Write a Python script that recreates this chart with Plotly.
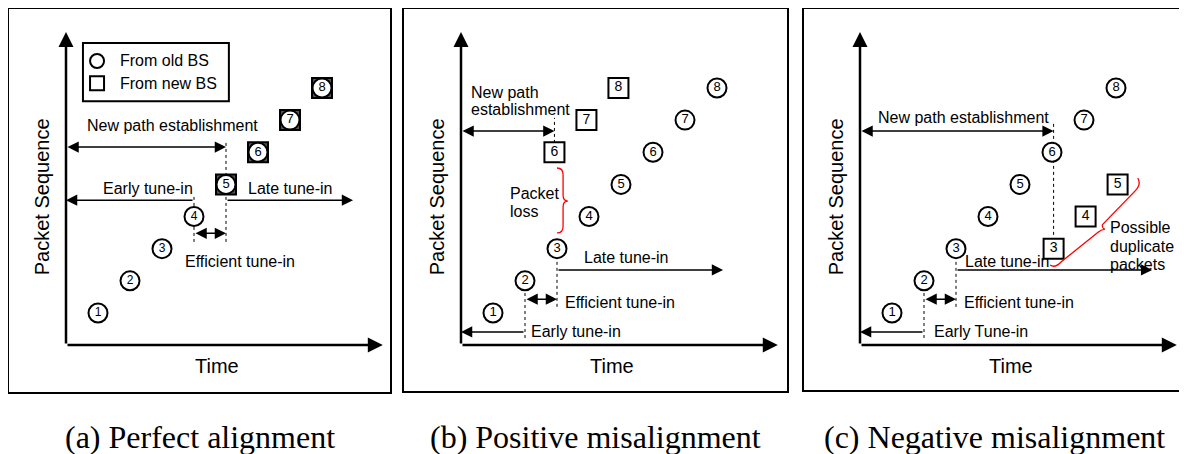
import plotly.graph_objects as go

# packet sequence numbers and arrival times (time unit = one packet slot)
old_seq = [1, 2, 3, 4, 5, 6, 7, 8]
a_old_t = [1, 2, 3, 4]
a_old_seq = [1, 2, 3, 4]
a_new_t = [5, 6, 7, 8]
a_new_seq = [5, 6, 7, 8]
b_old_t = [1, 2, 3, 4, 5, 6, 7, 8]
b_new_t = [2.92, 3.92, 4.92]
b_new_seq = [6, 7, 8]
c_old_t = [1, 2, 3, 4, 5, 6, 7, 8]
c_new_t = [6.05, 7.05, 8.05]
c_new_seq = [3, 4, 5]

captions = ['(a) Perfect alignment', '(b) Positive misalignment', '(c) Negative misalignment']

W, H = 1187, 454
OFF = 8  # page body margin
PX_T, PX_S = 32.0, 32.14
SEQ0_Y = 345.1
# panel frames in pixels: left, right, top, bottom, time-origin x
frames = [(8, 391, 8, 393, 66), (403, 788, 8, 392, 461), (803, 1185, 8, 391, 860)]

SANS = 'Arial, Liberation Sans, sans-serif'
SERIF = 'Times New Roman, Liberation Serif, serif'

fig = go.Figure()
ann = []
shapes = []


def refs(i):
    return ('x', 'y') if i == 0 else ('x%d' % (i + 1), 'y%d' % (i + 1))


def arrow(i, x0, y0, x1, y1, both=False, width=1.5, size=1.5):
    xr, yr = refs(i)
    ann.append(dict(xref=xr, yref=yr, axref=xr, ayref=yr, x=x1, y=y1, ax=x0, ay=y0,
                    text='', showarrow=True, arrowhead=2, arrowsize=size, arrowwidth=width,
                    arrowside='end+start' if both else 'end', arrowcolor='black',
                    standoff=0, startstandoff=0))


def label(i, x, y, txt, anchor='center', size=16, **kw):
    xr, yr = refs(i)
    ann.append(dict(xref=xr, yref=yr, x=x, y=y, text=txt, showarrow=False, xanchor=anchor,
                    yanchor='middle', font=dict(family=SANS, size=size, color='black'), **kw))


def dotted(i, x, y0, y1):
    xr, yr = refs(i)
    shapes.append(dict(type='line', xref=xr, yref=yr, x0=x, x1=x, y0=y0, y1=y1, layer='below',
                       line=dict(color='black', width=1, dash='dot')))


def packets(i, t, s, symbol, size, fs, fill='white'):
    xr, yr = refs(i)
    fig.add_trace(go.Scatter(x=t, y=s, mode='markers+text', text=[str(v) for v in s],
                             textposition='middle center', xaxis=xr, yaxis=yr,
                             textfont=dict(family=SANS, size=fs, color='black'),
                             marker=dict(symbol=symbol, size=size, color=fill,
                                         line=dict(color='black', width=2)),
                             showlegend=False, hoverinfo='skip', cliponaxis=False))


for i, (L, R, T, B, ox) in enumerate(frames):
    xr, yr = refs(i)
    xa = 'xaxis' if i == 0 else 'xaxis%d' % (i + 1)
    ya = 'yaxis' if i == 0 else 'yaxis%d' % (i + 1)
    fig.update_layout({
        xa: dict(domain=[(L - OFF) / W, (R - OFF) / W], range=[(L - ox) / PX_T, (R - ox) / PX_T],
                 visible=False, anchor=yr),
        ya: dict(domain=[(H - B + OFF) / H, (H - T + OFF) / H],
                 range=[(SEQ0_Y - B) / PX_S, (SEQ0_Y - T) / PX_S], visible=False, anchor=xr),
    })
    shapes.append(dict(type='rect', xref=xr + ' domain', yref=yr + ' domain', x0=0, x1=1, y0=0, y1=1,
                       line=dict(color='black', width=2)))
    # axes
    arrow(i, 0, 0, 9.9, 0, width=2.5, size=1.2)
    arrow(i, 0, 0, 0, 9.74, width=2.5, size=1.2)
    label(i, -0.75, 4.6, 'Packet Sequence', size=20, textangle=-90)
    label(i, 4.73, -0.65, 'Time', size=20)
    ann.append(dict(xref='paper', yref='paper', x=((L + R) / 2 - OFF) / W, y=(H - 437 + OFF) / H,
                    text=captions[i], showarrow=False, xanchor='center', yanchor='middle',
                    font=dict(family=SERIF, size=32, color='black')))

# (a) perfect alignment
dotted(0, 4, 3.21, 4.70)
dotted(0, 5, 3.21, 6.38)
shapes.append(dict(type='rect', xref='x', yref='y', x0=0.53, x1=5.09, y0=7.59, y1=9.40,
                   line=dict(color='black', width=2), fillcolor='white', layer='below'))
fig.add_trace(go.Scatter(x=[0.97, 0.97], y=[8.84, 8.15], mode='markers', xaxis='x', yaxis='y',
                         marker=dict(symbol=['circle-open', 'square-open'], size=14,
                                     color='black', line=dict(width=2)),
                         showlegend=False, hoverinfo='skip'))
label(0, 1.63, 8.84, 'From old BS', anchor='left')
label(0, 1.63, 8.15, 'From new BS', anchor='left')
packets(0, a_old_t, a_old_seq, 'circle', 19, 12)
packets(0, a_new_t, a_new_seq, 'square', 20, 12, fill='#555')
packets(0, a_new_t, a_new_seq, 'circle', 19, 13)
arrow(0, 0, 6.16, 5, 6.16, both=True)
label(0, 3.34, 6.82, 'New path establishment')
arrow(0, 4, 4.51, 0, 4.51)
label(0, 2.56, 4.86, 'Early tune-in')
arrow(0, 5, 4.51, 8.97, 4.51)
label(0, 7.0, 4.86, 'Late tune-in')
arrow(0, 4, 3.48, 5, 3.48, both=True)
label(0, 5.44, 2.61, 'Efficient tune-in')

# (b) positive misalignment
dotted(1, 2.92, 6.29, 7.07)
dotted(1, 2, 0.22, 1.71)
dotted(1, 3, 1.19, 2.74)
packets(1, b_old_t, old_seq, 'circle', 19, 13)
packets(1, b_new_t, b_new_seq, 'square', 20, 14)
label(1, 0.25, 7.87, 'New path', anchor='left')
label(1, 0.25, 7.34, 'establishment', anchor='left')
arrow(1, 0, 6.66, 2.92, 6.66, both=True)
shapes.append(dict(type='path', xref='x2', yref='y2',
                   path='M 3.0,5.51 Q 3.19,5.51 3.19,5.3 L 3.19,4.66 Q 3.19,4.48 3.34,4.48 '
                        'Q 3.19,4.48 3.19,4.3 L 3.19,3.7 Q 3.19,3.49 3.0,3.49',
                   line=dict(color='red', width=1.3)))
label(1, 1.47, 4.73, 'Packet', anchor='left')
label(1, 1.47, 4.17, 'loss', anchor='left')
arrow(1, 3, 2.34, 8.19, 2.34)
label(1, 5.16, 2.74, 'Late tune-in')
arrow(1, 2, 1.43, 3, 1.43, both=True)
label(1, 3.19, 1.34, 'Efficient tune-in', anchor='left')
arrow(1, 2, 0.41, 0, 0.41)
label(1, 2.13, 0.41, 'Early tune-in', anchor='left')

# (c) negative misalignment
dotted(2, 6.05, 3.43, 6.91)
dotted(2, 2, 0.22, 1.65)
dotted(2, 3, 1.19, 2.74)
packets(2, c_old_t, old_seq, 'circle', 19, 13)
packets(2, c_new_t, c_new_seq, 'square', 20, 14)
label(2, 3.22, 7.09, 'New path establishment')
arrow(2, 0, 6.66, 6.05, 6.66, both=True)
arrow(2, 3, 2.34, 9.13, 2.34)
label(2, 4.6, 2.59, 'Late tune-in')
shapes.append(dict(type='path', xref='x3', yref='y3',
                   path='M 5.94,2.49 Q 6.1,2.38 6.3,2.6 L 7.45,3.52 Q 7.55,3.6 7.65,3.6 '
                        'Q 7.55,3.65 7.58,3.75 L 8.6,4.8 Q 8.8,5.0 8.68,5.2',
                   line=dict(color='red', width=1.3)))
label(2, 7.75, 3.67, 'Possible', anchor='left')
label(2, 7.75, 3.08, 'duplicate', anchor='left')
label(2, 7.75, 2.52, 'packets', anchor='left')
arrow(2, 2, 1.43, 3, 1.43, both=True)
label(2, 3.19, 1.34, 'Efficient tune-in', anchor='left')
arrow(2, 2, 0.41, 0, 0.41)
label(2, 2.25, 0.41, 'Early Tune-in', anchor='left')

fig.update_layout(width=W, height=H, margin=dict(l=0, r=0, t=0, b=0),
                  paper_bgcolor='white', plot_bgcolor='white',
                  annotations=ann, shapes=shapes, showlegend=False)
fig.write_html('out.html')
